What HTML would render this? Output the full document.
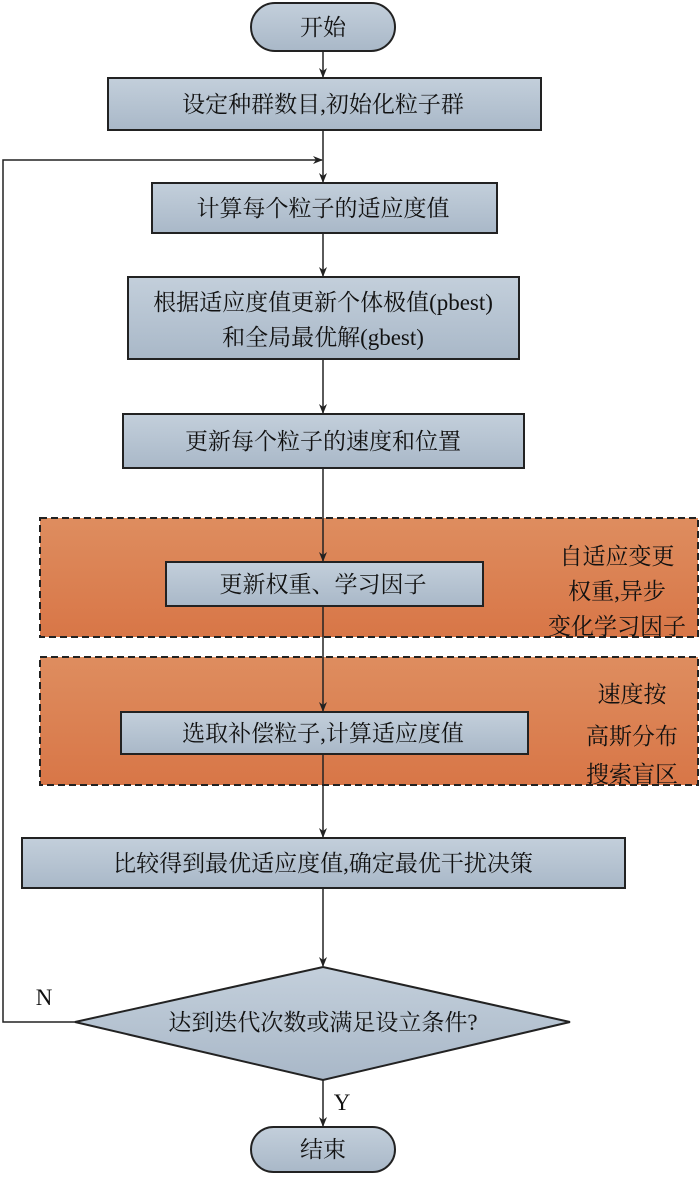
<!DOCTYPE html>
<html><head><meta charset="utf-8"><style>
body{margin:0;background:#fff}
svg text{font-family:"Liberation Serif","Noto Serif CJK SC","Noto Sans CJK SC",serif;font-size:23px;fill:#111}
</style></head><body>
<svg width="700" height="1176" viewBox="0 0 700 1176" xmlns="http://www.w3.org/2000/svg">
<defs>
<linearGradient id="b" x1="0" y1="0" x2="0" y2="1"><stop offset="0" stop-color="#c3cfdb"/><stop offset="1" stop-color="#a9b8c8"/></linearGradient>
<linearGradient id="o" x1="0" y1="0" x2="0" y2="1"><stop offset="0" stop-color="#de8d5f"/><stop offset="1" stop-color="#d87647"/></linearGradient>
<marker id="a" markerWidth="10" markerHeight="10" refX="9" refY="5" orient="auto" markerUnits="userSpaceOnUse"><path d="M0,1 L10,5 L0,9 L3,5 Z" fill="#222"/></marker>
</defs>
<g stroke="#222" stroke-width="2">
<rect x="40" y="518" width="658" height="119" fill="url(#o)" stroke-dasharray="7,4"/>
<rect x="40" y="657" width="658" height="128" fill="url(#o)" stroke-dasharray="7,4"/>
<rect x="251" y="3" width="144" height="48" rx="24" fill="url(#b)"/>
<rect x="108" y="78" width="433" height="52" fill="url(#b)"/>
<rect x="152" y="183" width="345" height="50" fill="url(#b)"/>
<rect x="128" y="277" width="391" height="82" fill="url(#b)"/>
<rect x="123" y="414" width="401" height="54" fill="url(#b)"/>
<rect x="166" y="562" width="317" height="44" fill="url(#b)"/>
<rect x="121" y="712" width="407" height="42" fill="url(#b)"/>
<rect x="22" y="838" width="603" height="50" fill="url(#b)"/>
<polygon points="75,1022 323,967 570,1022 323,1080" fill="url(#b)"/>
<rect x="251" y="1127" width="144" height="45" rx="22.5" fill="url(#b)"/>
</g>
<g stroke="#222" stroke-width="1.5" fill="none">
<line x1="323" y1="51" x2="323" y2="77" marker-end="url(#a)"/>
<line x1="323" y1="130" x2="323" y2="182" marker-end="url(#a)"/>
<polyline points="75,1022 3,1022 3,160 322,160" marker-end="url(#a)"/>
<line x1="323" y1="233" x2="323" y2="276" marker-end="url(#a)"/>
<line x1="323" y1="359" x2="323" y2="413" marker-end="url(#a)"/>
<line x1="323" y1="468" x2="323" y2="561" marker-end="url(#a)"/>
<line x1="323" y1="606" x2="323" y2="711" marker-end="url(#a)"/>
<line x1="323" y1="754" x2="323" y2="837" marker-end="url(#a)"/>
<line x1="323" y1="888" x2="323" y2="966" marker-end="url(#a)"/>
<line x1="323" y1="1080" x2="323" y2="1126" marker-end="url(#a)"/>
</g>
<g text-anchor="middle">
<text x="323" y="35">开始</text>
<text x="323" y="112">设定种群数目,初始化粒子群</text>
<text x="323" y="216">计算每个粒子的适应度值</text>
<text x="323" y="310">根据适应度值更新个体极值(pbest)</text>
<text x="323" y="345">和全局最优解(gbest)</text>
<text x="323" y="449">更新每个粒子的速度和位置</text>
<text x="323" y="592">更新权重、学习因子</text>
<text x="323" y="741">选取补偿粒子,计算适应度值</text>
<text x="323" y="871">比较得到最优适应度值,确定最优干扰决策</text>
<text x="323" y="1030">达到迭代次数或满足设立条件?</text>
<text x="323" y="1157">结束</text>
<text x="617" y="564">自适应变更</text>
<text x="617" y="599">权重,异步</text>
<text x="617" y="634">变化学习因子</text>
<text x="632" y="702">速度按</text>
<text x="632" y="744">高斯分布</text>
<text x="632" y="786" dy="-4">搜索盲区</text>
<text x="44" y="1005">N</text>
<text x="342" y="1110">Y</text>
</g>
</svg>
</body></html>
